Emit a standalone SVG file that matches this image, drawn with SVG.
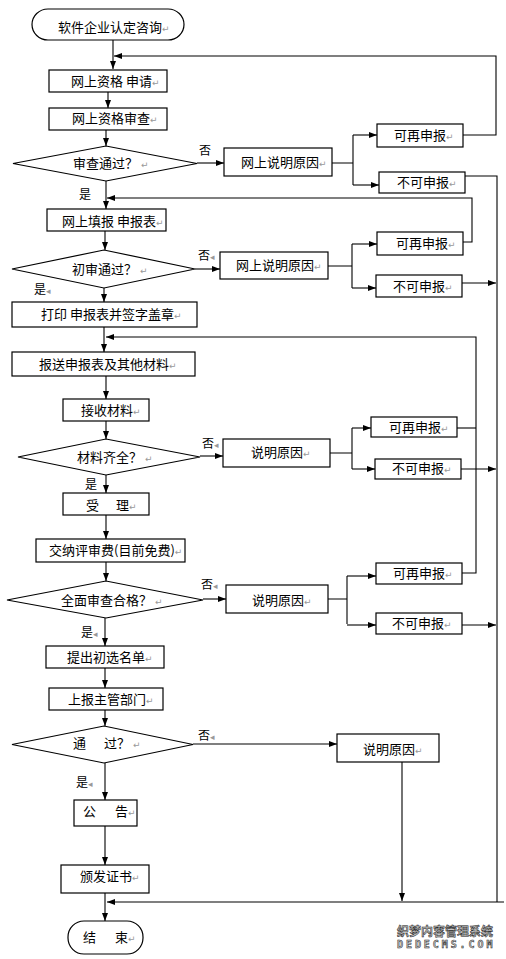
<svg xmlns="http://www.w3.org/2000/svg" width="506" height="959" viewBox="0 0 506 959">
<defs>
<marker id="ah" markerUnits="userSpaceOnUse" markerWidth="8" markerHeight="6" refX="8" refY="3" orient="auto">
<path d="M0,0 L8,3 L0,6 z" fill="#000"/>
</marker>
<style>
.box{fill:#fff;stroke:#000;stroke-width:1.2}
.t{font-family:"Noto Sans CJK SC","Liberation Sans",sans-serif;font-size:13px;fill:#000}
.l{font-family:"Noto Sans CJK SC","Liberation Sans",sans-serif;font-size:12px;fill:#000}
.r{font-family:"DejaVu Sans",sans-serif;font-size:9px;fill:#999}
.c{fill:none;stroke:#000;stroke-width:1.1}
.a{fill:none;stroke:#000;stroke-width:1.1;marker-end:url(#ah)}
.wm{font-family:"Noto Sans CJK SC",sans-serif;font-size:12px;font-weight:bold;fill:#bbb;stroke:#222;stroke-width:0.5}
.wm2{font-family:"DejaVu Sans Mono",monospace;font-size:10px;font-weight:bold;fill:#ccc;stroke:#222;stroke-width:0.5;letter-spacing:0.6px}
</style>
</defs>
<rect width="506" height="959" fill="#fff"/>

<g id="connectors">
<path class="a" d="M113,40 V69"/>
<path class="a" d="M463,135 H496 V56 H114"/>
<path class="a" d="M108,92 V108"/>
<path class="a" d="M106,130 V146"/>
<path class="a" d="M197,163 H224"/>
<path class="c" d="M332,163 H353 M353,135 V185"/>
<path class="a" d="M353,135 H377"/>
<path class="a" d="M353,185 H379"/>
<path class="c" d="M465,176 H497 V902"/>
<path class="a" d="M106,181 V209"/>
<path class="a" d="M463,242 H472 V198 H107"/>
<path class="a" d="M105,231 V250"/>
<path class="a" d="M195,269 H220"/>
<path class="c" d="M328,266 H352 M352,244 V288"/>
<path class="a" d="M352,244 H377"/>
<path class="a" d="M352,288 H376"/>
<path class="a" d="M462,283 H496"/>
<path class="a" d="M104,288 V302"/>
<path class="a" d="M104,327 V352"/>
<path class="a" d="M462,573 H476 V337 H106"/>
<path class="c" d="M457,428 H476"/>
<path class="a" d="M106,376 V399"/>
<path class="a" d="M106,421 V439"/>
<path class="a" d="M200,456 H223"/>
<path class="c" d="M330,453 H352 M352,428 V469"/>
<path class="a" d="M352,428 H371"/>
<path class="a" d="M352,469 H375"/>
<path class="a" d="M461,469 H496"/>
<path class="a" d="M106,475 V493"/>
<path class="a" d="M106,515 V539"/>
<path class="a" d="M106,562 V581"/>
<path class="a" d="M203,599 H226"/>
<path class="c" d="M328,599 H347 M347,576 V624"/>
<path class="a" d="M347,576 H376"/>
<path class="a" d="M347,625 H376"/>
<path class="a" d="M462,625 H496"/>
<path class="a" d="M105,618 V646"/>
<path class="a" d="M105,668 V688"/>
<path class="a" d="M105,710 V726"/>
<path class="a" d="M193,744 H337"/>
<path class="a" d="M402,762 V901"/>
<path class="a" d="M105,763 V800"/>
<path class="a" d="M105,826 V865"/>
<path class="a" d="M105,893 V921"/>
<path class="a" d="M504,902 H107"/>
</g>

<g id="start">
<rect class="box" x="32" y="9" width="152" height="31" rx="16"/>
<text class="t" x="58" y="32">软件企业认定咨询<tspan class="r">↵</tspan></text>
</g>
<g id="n1">
<rect class="box" x="49" y="70" width="118" height="22"/>
<text class="t" x="71" y="86">网上资格 申请<tspan class="r">↵</tspan></text>
</g>
<g id="n2">
<rect class="box" x="49" y="108" width="118" height="22"/>
<text class="t" x="72" y="123">网上资格审查<tspan class="r">↵</tspan></text>
</g>
<g id="d1">
<polygon class="box" points="13,163.5 106,146 197,163.5 106,181"/>
<text class="t" x="73" y="168">审查通过？ <tspan class="r">↵</tspan></text>
</g>
<g id="e1">
<rect class="box" x="224" y="148" width="108" height="28"/>
<text class="t" x="241" y="167">网上说明原因<tspan class="r">↵</tspan></text>
</g>
<g id="y1">
<rect class="box" x="377" y="124" width="86" height="23"/>
<text class="t" x="394" y="140">可再申报<tspan class="r">↵</tspan></text>
</g>
<g id="x1">
<rect class="box" x="379" y="172" width="86" height="21"/>
<text class="t" x="397" y="187">不可申报<tspan class="r">↵</tspan></text>
</g>
<g id="n3">
<rect class="box" x="47" y="209" width="119" height="22"/>
<text class="t" x="62" y="226">网上填报 申报表<tspan class="r">↵</tspan></text>
</g>
<g id="d2">
<polygon class="box" points="12,269 104,250 195,269 104,288"/>
<text class="t" x="72" y="274">初审通过？ <tspan class="r">↵</tspan></text>
</g>
<g id="e2">
<rect class="box" x="220" y="252" width="108" height="27"/>
<text class="t" x="236" y="270">网上说明原因<tspan class="r">↵</tspan></text>
</g>
<g id="y2">
<rect class="box" x="377" y="232" width="86" height="23"/>
<text class="t" x="396" y="248">可再申报<tspan class="r">↵</tspan></text>
</g>
<g id="x2">
<rect class="box" x="376" y="275" width="86" height="22"/>
<text class="t" x="393" y="291">不可申报<tspan class="r">↵</tspan></text>
</g>
<g id="n4">
<rect class="box" x="12" y="302" width="185" height="25"/>
<text class="t" x="41" y="319">打印 申报表并签字盖章<tspan class="r">↵</tspan></text>
</g>
<g id="n5">
<rect class="box" x="12" y="352" width="183" height="24"/>
<text class="t" x="39" y="369">报送申报表及其他材料<tspan class="r">↵</tspan></text>
</g>
<g id="n6">
<rect class="box" x="63" y="399" width="86" height="22"/>
<text class="t" x="81" y="415">接收材料<tspan class="r">↵</tspan></text>
</g>
<g id="d3">
<polygon class="box" points="18,457 106,439 200,457 106,475"/>
<text class="t" x="77" y="462">材料齐全？ <tspan class="r">↵</tspan></text>
</g>
<g id="e3">
<rect class="box" x="223" y="439" width="107" height="28"/>
<text class="t" x="251" y="457">说明原因<tspan class="r">↵</tspan></text>
</g>
<g id="y3">
<rect class="box" x="371" y="417" width="86" height="20"/>
<text class="t" x="389" y="432">可再申报<tspan class="r">↵</tspan></text>
</g>
<g id="x3">
<rect class="box" x="375" y="459" width="86" height="20"/>
<text class="t" x="392" y="473">不可申报<tspan class="r">↵</tspan></text>
</g>
<g id="n7">
<rect class="box" x="63" y="493" width="86" height="22"/>
<text class="t" y="510"><tspan x="86">受</tspan><tspan x="116">理</tspan><tspan class="r">↵</tspan></text>
</g>
<g id="n8">
<rect class="box" x="36" y="539" width="149" height="23"/>
<text class="t" x="49" y="555">交纳评审费(目前免费)<tspan class="r">↵</tspan></text>
</g>
<g id="d4">
<polygon class="box" points="7,600 106,581 203,600 106,618"/>
<text class="t" x="61" y="605">全面审查合格？ <tspan class="r">↵</tspan></text>
</g>
<g id="e4">
<rect class="box" x="226" y="585" width="102" height="28"/>
<text class="t" x="252" y="605">说明原因<tspan class="r">↵</tspan></text>
</g>
<g id="y4">
<rect class="box" x="376" y="563" width="86" height="21"/>
<text class="t" x="393" y="578">可再申报<tspan class="r">↵</tspan></text>
</g>
<g id="x4">
<rect class="box" x="376" y="613" width="86" height="21"/>
<text class="t" x="392" y="628">不可申报<tspan class="r">↵</tspan></text>
</g>
<g id="n9">
<rect class="box" x="46" y="646" width="118" height="22"/>
<text class="t" x="67" y="662">提出初选名单<tspan class="r">↵</tspan></text>
</g>
<g id="n10">
<rect class="box" x="49" y="688" width="114" height="22"/>
<text class="t" x="68" y="704">上报主管部门<tspan class="r">↵</tspan></text>
</g>
<g id="d5">
<polygon class="box" points="12,744.5 104,726 193,744.5 104,763"/>
<text class="t" y="748"><tspan x="73">通</tspan><tspan x="104">过？ </tspan><tspan class="r">↵</tspan></text>
</g>
<g id="e5">
<rect class="box" x="337" y="734" width="102" height="28"/>
<text class="t" x="363" y="754">说明原因<tspan class="r">↵</tspan></text>
</g>
<g id="n11">
<rect class="box" x="74" y="800" width="63" height="26"/>
<text class="t" y="816"><tspan x="83">公</tspan><tspan x="115">告</tspan><tspan class="r">↵</tspan></text>
</g>
<g id="n12">
<rect class="box" x="61" y="865" width="88" height="28"/>
<text class="t" x="80" y="881">颁发证书<tspan class="r">↵</tspan></text>
</g>
<g id="end">
<rect class="box" x="68" y="921" width="75" height="33" rx="16"/>
<text class="t" y="942"><tspan x="83">结</tspan><tspan x="115">束</tspan><tspan class="r">↵</tspan></text>
</g>

<g id="labels">
<text class="l" x="199" y="155">否</text>
<text class="l" x="79" y="199">是</text>
<text class="l" x="198" y="260">否<tspan class="r" font-size="6">◂</tspan></text>
<text class="l" x="34" y="294">是<tspan class="r" font-size="6">◂</tspan></text>
<text class="l" x="202" y="448">否<tspan class="r" font-size="6">◂</tspan></text>
<text class="l" x="85" y="489">是</text>
<text class="l" x="201" y="589">否<tspan class="r" font-size="6">◂</tspan></text>
<text class="l" x="81" y="637">是<tspan class="r" font-size="6">◂</tspan></text>
<text class="l" x="198" y="740">否<tspan class="r" font-size="6">◂</tspan></text>
<text class="l" x="76" y="787">是<tspan class="r" font-size="6">◂</tspan></text>
</g>

<g id="watermark">
<text class="wm" x="397" y="936" textLength="96">织梦内容管理系统</text>
<text class="wm2" x="397" y="948" textLength="96">DEDECMS.COM</text>
</g>
</svg>
